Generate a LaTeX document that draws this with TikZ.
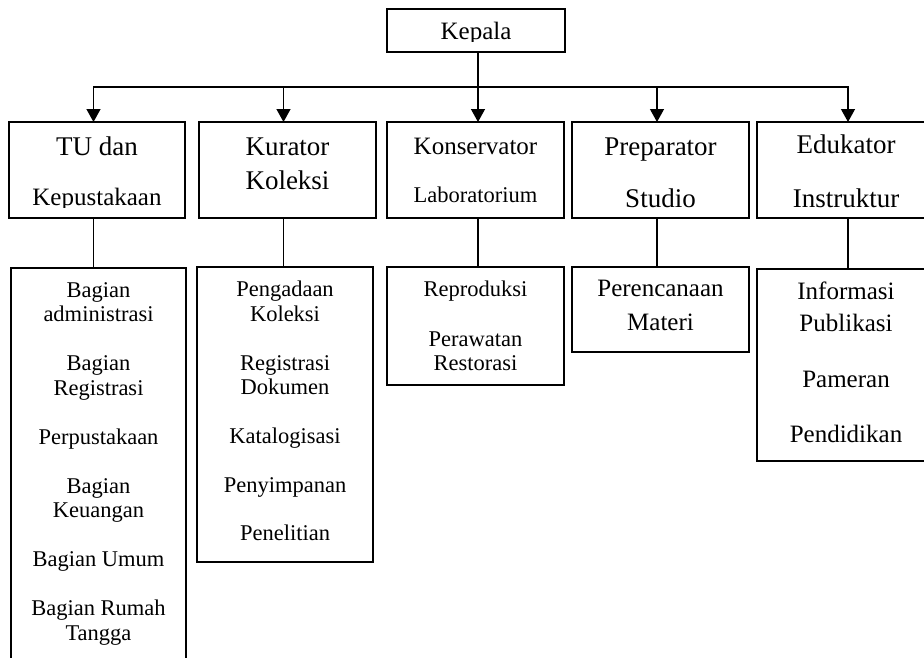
\documentclass[tikz,border=0pt]{standalone}
\usepackage{fontspec}
\setmainfont{Liberation Serif}
\usetikzlibrary{arrows.meta}
\begin{document}
\begin{tikzpicture}[x=1pt,y=-1pt,
  box/.style={draw, line width=1.3pt, inner sep=0pt, outer sep=0pt},
  lbl/.style={anchor=base, inner sep=0pt, font=\fontsize{27}{32}\selectfont},
  lblm/.style={anchor=base, inner sep=0pt, font=\fontsize{25}{30}\selectfont},
  sub/.style={anchor=base, inner sep=0pt, font=\fontsize{22.5}{25}\selectfont},
  subl/.style={anchor=base, inner sep=0pt, font=\fontsize{25}{28}\selectfont},
  conn/.style={line width=1.3pt},
  arr/.style={line width=1.3pt, -{Triangle[width=14pt,length=13pt]}}]
\clip (0,0) rectangle (924,657);
\fill[white] (0,0) rectangle (924,657);

% column coordinates on the bus line
\coordinate (b1) at (93.5,87);
\coordinate (b2) at (283.5,87);
\coordinate (b3) at (478,87);
\coordinate (b4) at (657,87);
\coordinate (b5) at (848,87);

% boxes
\node[box, minimum width=178pt, minimum height=43pt] (kepala) at (476,30.5) {};
\node[box, minimum width=176pt, minimum height=96pt] (tu) at (97,170) {};
\node[box, minimum width=177pt, minimum height=96pt] (kur) at (287.5,170) {};
\node[box, minimum width=177pt, minimum height=96pt] (kon) at (475.5,170) {};
\node[box, minimum width=177pt, minimum height=96pt] (pre) at (660.5,170) {};
\node[box, minimum width=178pt, minimum height=96pt] (edu) at (846,170) {};

\node[box, minimum width=175pt, minimum height=412pt] (tul) at (98.5,474) {};
\node[box, minimum width=176pt, minimum height=295pt] (kurl) at (285,414.5) {};
\node[box, minimum width=177pt, minimum height=118pt] (konl) at (475.5,326) {};
\node[box, minimum width=177pt, minimum height=85pt] (prel) at (660.5,309.5) {};
\node[box, minimum width=178pt, minimum height=192pt] (edul) at (846,365) {};

% connectors
\draw[conn] (b3 |- kepala.south) -- (b3);
\draw[conn, line cap=rect] (b1) -- (b5);
\draw[arr] (b1) -- (b1 |- tu.north);
\draw[arr] (b2) -- (b2 |- kur.north);
\draw[arr] (b3) -- (b3 |- kon.north);
\draw[arr] (b4) -- (b4 |- pre.north);
\draw[arr] (b5) -- (b5 |- edu.north);

\draw[conn] (b1 |- tu.south) -- (b1 |- tul.north);
\draw[conn] (b2 |- kur.south) -- (b2 |- kurl.north);
\draw[conn] (b3 |- kon.south) -- (b3 |- konl.north);
\draw[conn] (b4 |- pre.south) -- (b4 |- prel.north);
\draw[conn] (b5 |- edu.south) -- (b5 |- edul.north);

% top texts
\begin{scope}
  \clip (387,9) rectangle (565,41);
  \node[lblm] (tkepala) at (476,39.5) {Kepala};
\end{scope}
\node[lbl] (ttu1) at (97,155) {TU dan};
\begin{scope}
  \clip (9,122) rectangle (185,207);
  \node[lblm] (ttu2) at (97,205.5) {Kepustakaan};
\end{scope}
\node[lbl] (tkur1) at (287.5,155.5) {Kurator};
\node[lbl] (tkur2) at (287.5,189) {Koleksi};
\node[lblm] (tkon1) at (475.5,154) {Konservator};
\node[sub] (tkon2) at (475.5,202) {Laboratorium};
\node[lbl] (tpre1) at (660.5,155) {Preparator};
\node[lbl] (tpre2) at (660.5,207.5) {Studio};
\node[lbl] (tedu1) at (846,153) {Edukator};
\node[lbl] (tedu2) at (846,207) {Instruktur};

% lower texts
\foreach \t/\y [count=\i] in {Bagian/297, administrasi/321.5, Bagian/370.5,
  Registrasi/395, Perpustakaan/444, Bagian/493, Keuangan/517.5,
  Bagian Umum/566.5, Bagian Rumah/615.5, Tangga/640}
  \node[sub, name=stu\i] at (98.5,\y) {\t};
\foreach \t/\y [count=\i] in {Pengadaan/296, Koleksi/321, Registrasi/370,
  Dokumen/394, Katalogisasi/443, Penyimpanan/492, Penelitian/540}
  \node[sub, name=skur\i] at (285,\y) {\t};
\foreach \t/\y [count=\i] in {Reproduksi/296, Perawatan/346, Restorasi/370}
  \node[sub, name=skon\i] at (475.5,\y) {\t};
\foreach \t/\y [count=\i] in {Perencanaan/296, Materi/330}
  \node[subl, name=spre\i] at (660.5,\y) {\t};
\foreach \t/\y [count=\i] in {Informasi/299, Publikasi/331, Pameran/387, Pendidikan/442}
  \node[subl, name=sedu\i] at (846,\y) {\t};
\end{tikzpicture}
\end{document}
